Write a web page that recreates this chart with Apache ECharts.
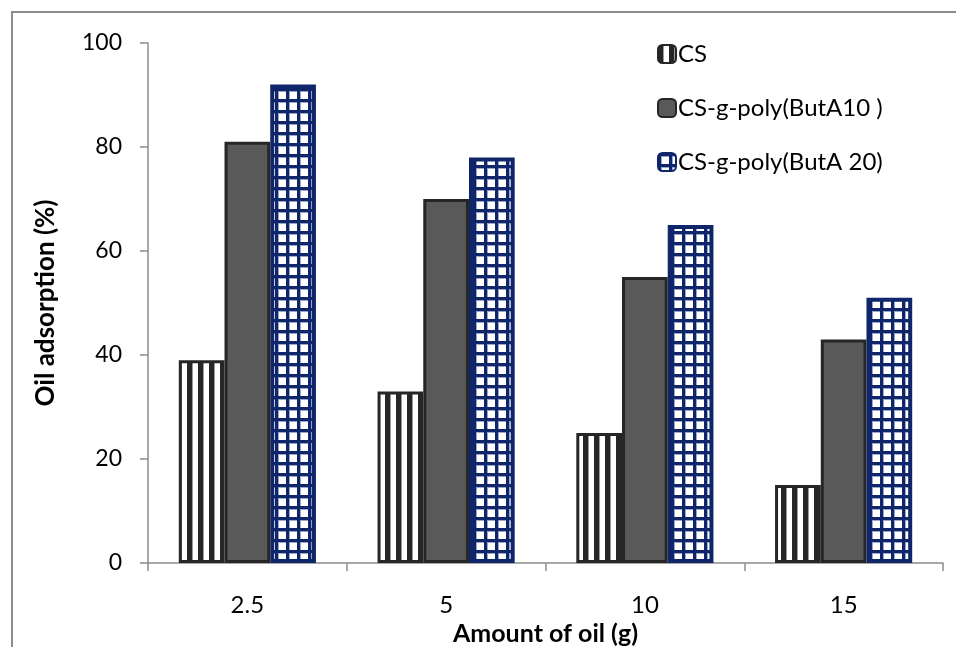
<!DOCTYPE html>
<html>
<head>
<meta charset="utf-8">
<script src="https://cdn.jsdelivr.net/npm/echarts@6/dist/echarts.min.js"></script>
<style>
  html, body { margin: 0; padding: 0; background: #fff; }
  #chart { width: 956px; height: 647px; }
</style>
</head>
<body>
<div id="chart"></div>
<script>
// Oil adsorption for each amount of oil (g)
const categories = ['2.5', '5', '10', '15'];
const csValues = [39, 33, 25, 15];
const butA10Values = [81, 70, 55, 43];
const butA20Values = [92, 78, 65, 51];
const seriesNames = ['CS', 'CS-g-poly(ButA10 )', 'CS-g-poly(ButA 20)'];

const FONT = 'Lato, "Open Sans", sans-serif';

// Vertical stripe fill for the CS bars
function stripePattern() {
  const c = document.createElement('canvas');
  c.width = 11; c.height = 4;
  const g = c.getContext('2d');
  g.fillStyle = '#ffffff'; g.fillRect(0, 0, 11, 4);
  g.fillStyle = '#262626'; g.fillRect(0, 0, 5, 4);
  g.fillStyle = '#9a9a9a'; g.fillRect(5, 0, 1, 4);
  return c;
}

// Checked grid fill for the ButA 20 bars
function gridPattern() {
  const c = document.createElement('canvas');
  const n = 11;
  c.width = n; c.height = n;
  const g = c.getContext('2d');
  g.fillStyle = '#ffffff'; g.fillRect(0, 0, n, n);
  g.fillStyle = '#9aa6cc';
  g.fillRect(3, 0, 1, n); g.fillRect(0, 3, n, 1);
  g.fillStyle = '#10266a';
  g.fillRect(0, 0, 3, n); g.fillRect(0, 0, n, 3);
  return c;
}

const chart = echarts.init(document.getElementById('chart'), null, { renderer: 'canvas' });

const option = {
  backgroundColor: '#ffffff',
  animation: false,
  textStyle: { fontFamily: FONT, color: '#000' },
  graphic: [{
    type: 'polyline',
    shape: { points: [[12, 660], [12, 12], [970, 12]] },
    style: { stroke: '#8c8c8c', lineWidth: 2, fill: null }
  }],
  grid: { left: 148, right: 13, top: 43, bottom: 84, outerBoundsMode: 'none', containLabel: false },
  legend: {
    orient: 'vertical',
    left: 652,
    top: 37,
    itemWidth: 18,
    itemHeight: 18,
    itemGap: 30,
    icon: 'roundRect',
    textStyle: { fontFamily: FONT, fontSize: 24, color: '#000', padding: [0, 0, 0, -3] },
    data: seriesNames
  },
  xAxis: {
    type: 'category',
    data: categories,
    name: 'Amount of oil (g)',
    nameLocation: 'middle',
    nameGap: 55,
    nameTextStyle: { fontFamily: FONT, fontWeight: 'bold', fontSize: 25, color: '#000' },
    axisLine: { lineStyle: { color: '#8c8c8c', width: 1.5 } },
    axisTick: { show: true, length: 8, lineStyle: { color: '#8c8c8c', width: 1.5 } },
    axisLabel: { fontFamily: FONT, fontSize: 24, color: '#000', margin: 30 }
  },
  yAxis: {
    type: 'value',
    min: 0,
    max: 100,
    interval: 20,
    name: 'Oil adsorption (%)',
    nameLocation: 'middle',
    nameGap: 89,
    nameTextStyle: { fontFamily: FONT, fontWeight: 'bold', fontSize: 26, color: '#000' },
    axisLine: { show: true, lineStyle: { color: '#8c8c8c', width: 1.5 } },
    axisTick: { show: true, length: 8, lineStyle: { color: '#8c8c8c', width: 1.5 } },
    splitLine: { show: false },
    axisLabel: { fontFamily: FONT, fontSize: 23, color: '#000', margin: 26 }
  },
  series: [
    {
      name: seriesNames[0],
      type: 'bar',
      data: csValues,
      barGap: '0%',
      barCategoryGap: '31%',
      itemStyle: {
        color: { image: stripePattern(), repeat: 'repeat' },
        borderColor: '#262626',
        borderWidth: 3
      }
    },
    {
      name: seriesNames[1],
      type: 'bar',
      data: butA10Values,
      itemStyle: { color: '#595959', borderColor: '#262626', borderWidth: 3 }
    },
    {
      name: seriesNames[2],
      type: 'bar',
      data: butA20Values,
      itemStyle: {
        color: { image: gridPattern(), repeat: 'repeat' },
        borderColor: '#10266a',
        borderWidth: 4
      }
    }
  ]
};

chart.setOption(option);
</script>
</body>
</html>
